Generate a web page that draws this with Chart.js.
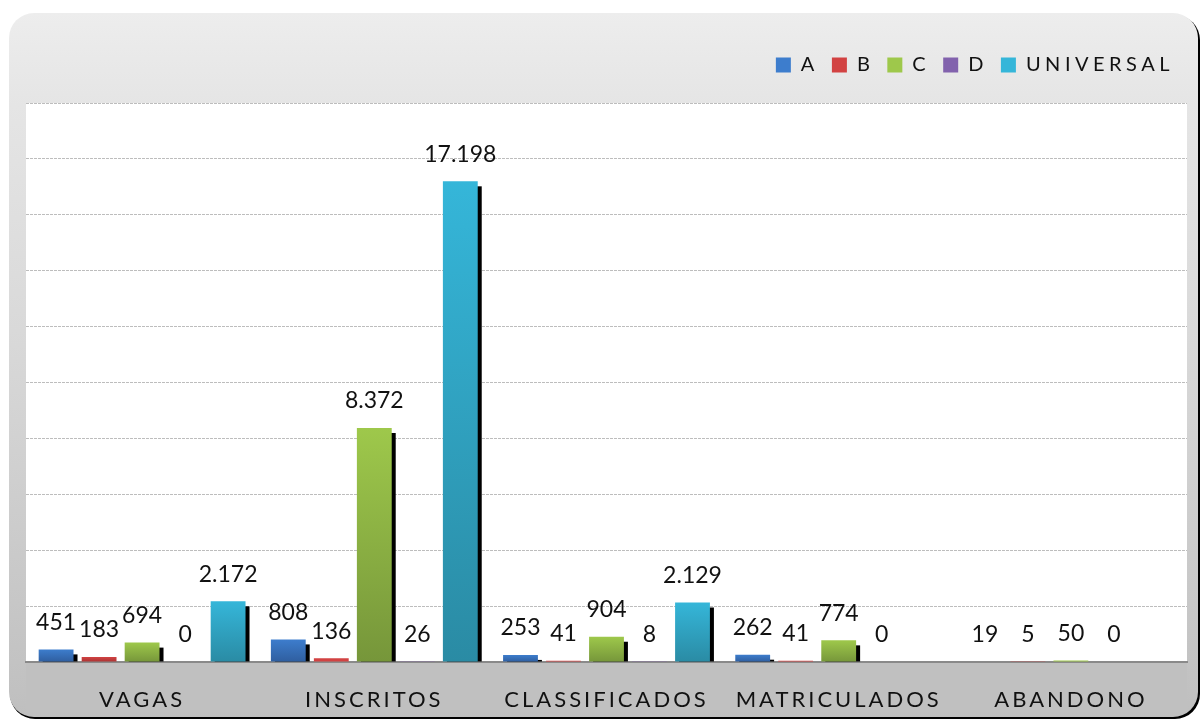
<!DOCTYPE html>
<html>
<head>
<meta charset="utf-8">
<script src="https://cdn.jsdelivr.net/npm/chart.js@4.4.1/dist/chart.umd.min.js"></script>
<style>
  html, body { margin: 0; padding: 0; background: #ffffff; }
  #wrap { width: 1201px; height: 722px; position: relative; }
</style>
</head>
<body>
<div id="wrap"><canvas id="grafico"></canvas></div>
<script>
const categorias = ["VAGAS", "INSCRITOS", "CLASSIFICADOS", "MATRICULADOS", "ABANDONO"];
const serieA = [451, 808, 253, 262, 19];
const serieB = [183, 136, 41, 41, 5];
const serieC = [694, 8372, 904, 774, 50];
const serieD = [0, 26, 8, 0, 0];
const serieUniversal = [2172, 17198, 2129, null, null];
const eixoMax = 20000;
const eixoPasso = 2000;

// cor de cima / cor de baixo de cada serie
const cores = {
    A: ["#3d7dcd", "#2f5e9f"],
    B: ["#d24242", "#a93333"],
    C: ["#9ec84b", "#76963a"],
    D: ["#8262ad", "#674a8e"],
    U: ["#35b6d9", "#2a8ba4"]
};

function barFill(par) {
    return function (c) {
        const chart = c.chart;
        if (c.type !== "data" || !chart.chartArea || c.raw == null) return par[0];
        const y = chart.scales.y;
        const y0 = y.getPixelForValue(c.raw);
        const y1 = y.getPixelForValue(0);
        if (y1 - y0 < 4) return par[0];
        const g = chart.ctx.createLinearGradient(0, y0, 0, y1);
        g.addColorStop(0, par[0]);
        g.addColorStop(1, par[1]);
        return g;
    };
}

function formata(v) {
    return String(v).replace(/\B(?=(\d{3})+(?!\d))/g, ".");
}

const fundoPlugin = {
    id: "fundo",
    beforeInit(chart) {
        // legenda com letras mais espaçadas e mais espaço embaixo
        const lg = chart.legend;
        const fitOriginal = lg.fit;
        const drawOriginal = lg.draw;
        lg.fit = function () {
            const prev = this.ctx.letterSpacing;
            this.ctx.letterSpacing = "4.5px";
            fitOriginal.call(this);
            this.ctx.letterSpacing = prev;
            this.height += 18;
        };
        lg.draw = function (area) {
            const prev = this.ctx.letterSpacing;
            this.ctx.letterSpacing = "4.5px";
            drawOriginal.call(this, area);
            this.ctx.letterSpacing = prev;
        };
    },
    beforeUpdate(chart) {
        chart.ctx.letterSpacing = "3px";
    },
    beforeDraw(chart) {
        const ctx = chart.ctx;
        const a = chart.chartArea;
        ctx.save();
        ctx.letterSpacing = "0px";
        ctx.fillStyle = "#ffffff";
        ctx.fillRect(0, 0, chart.width, chart.height);
        // sombra da moldura
        ctx.fillStyle = "#000000";
        ctx.beginPath();
        ctx.roundRect(10, 15, 1190, 704, 25);
        ctx.fill();
        // moldura
        const g = ctx.createLinearGradient(0, 13, 0, 718);
        g.addColorStop(0, "#ededed");
        g.addColorStop(0.13, "#e5e5e5");
        g.addColorStop(0.45, "#d9d9d9");
        g.addColorStop(0.92, "#c3c3c3");
        g.addColorStop(1, "#bfbfbf");
        ctx.fillStyle = g;
        ctx.beginPath();
        ctx.roundRect(9, 13, 1189, 704, 25);
        ctx.fill();
        ctx.fillStyle = "#c0c0c0";
        ctx.fillRect(a.left, a.bottom, a.right - a.left, 50);
        ctx.fillStyle = "#ffffff";
        ctx.fillRect(a.left, a.top, a.right - a.left, a.bottom - a.top);
        ctx.restore();
        ctx.letterSpacing = "3px";
    },
    beforeDatasetsDraw(chart) {
        const ctx = chart.ctx;
        ctx.letterSpacing = "0px";
        ctx.save();
        ctx.fillStyle = "#000000";
        chart.data.datasets.forEach((ds, i) => {
            const meta = chart.getDatasetMeta(i);
            meta.data.forEach((el) => {
                const p = el.getProps(["x", "y", "base", "width"], true);
                const h = p.base - p.y;
                if (h > 6) ctx.fillRect(p.x - p.width / 2 + 4, p.y + 5, p.width, h - 5);
            });
        });
        ctx.restore();
    },
    afterDatasetsDraw(chart) {
        const ctx = chart.ctx;
        ctx.save();
        ctx.letterSpacing = "0px";
        ctx.font = "23px Lato";
        ctx.fillStyle = "#111111";
        ctx.textAlign = "center";
        ctx.textBaseline = "middle";
        chart.data.datasets.forEach((ds, i) => {
            const meta = chart.getDatasetMeta(i);
            meta.data.forEach((el, j) => {
                const v = ds.data[j];
                if (v == null) return;
                const p = el.getProps(["x", "y"], true);
                ctx.fillText(formata(v), p.x, p.y - 27);
            });
        });
        ctx.restore();
    }
};

new Chart(document.getElementById("grafico"), {
    type: "bar",
    data: {
        labels: categorias,
        datasets: [
            { label: "A", data: serieA, backgroundColor: barFill(cores.A) },
            { label: "B", data: serieB, backgroundColor: barFill(cores.B) },
            { label: "C", data: serieC, backgroundColor: barFill(cores.C) },
            { label: "D", data: serieD, backgroundColor: barFill(cores.D) },
            { label: "UNIVERSAL", data: serieUniversal, backgroundColor: barFill(cores.U) }
        ]
    },
    options: {
        responsive: true,
        maintainAspectRatio: false,
        animation: false,
        categoryPercentage: 0.926,
        barPercentage: 0.81,
        layout: { padding: { top: 42, left: 26, right: 14, bottom: 9 } },
        plugins: {
            legend: {
                position: "top",
                align: "end",
                labels: {
                    boxWidth: 15,
                    boxHeight: 15,
                    padding: 13,
                    color: "#111111",
                    font: { family: "Lato", size: 20 },
                    generateLabels(chart) {
                        return chart.data.datasets.map((ds, i) => ({
                            text: ds.label,
                            fillStyle: Object.values(cores)[i][0],
                            strokeStyle: "rgba(0,0,0,0)",
                            lineWidth: 0,
                            fontColor: "#111111",
                            datasetIndex: i
                        }));
                    }
                }
            },
            tooltip: { enabled: false }
        },
        scales: {
            x: {
                grid: { display: false, drawTicks: false },
                border: { color: "#8a8a8a", width: 2 },
                ticks: {
                    color: "#111111",
                    padding: 25,
                    maxRotation: 0,
                    autoSkip: false,
                    font: { family: "Lato", size: 22 }
                },
                afterFit(scale) {
                    scale.height = 51;
                }
            },
            y: {
                min: 0,
                max: eixoMax,
                ticks: { display: false, stepSize: eixoPasso },
                border: { display: false, dash: [3, 1] },
                grid: { color: "#bdbdbd", lineWidth: 1, drawTicks: false }
            }
        }
    },
    plugins: [fundoPlugin]
});
</script>
</body>
</html>
